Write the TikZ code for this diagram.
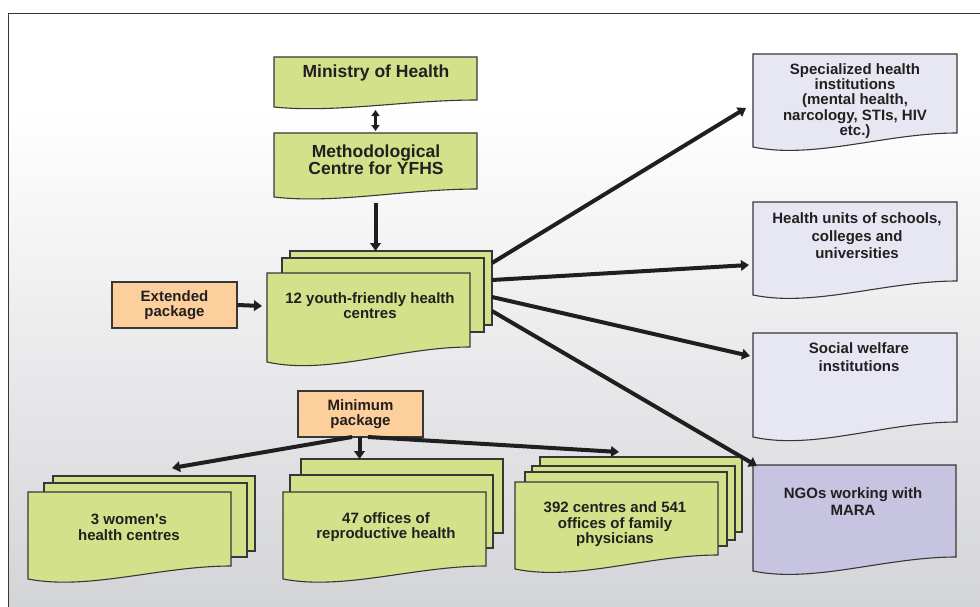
\documentclass[tikz,border=0pt]{standalone}
\usepackage{fontspec}
\setmainfont{Liberation Sans}
\usetikzlibrary{arrows.meta}
\definecolor{grn}{RGB}{211,225,138}
\definecolor{org}{RGB}{253,207,157}
\definecolor{lav}{RGB}{231,231,243}
\definecolor{ngo}{RGB}{199,196,226}
\definecolor{edge}{RGB}{55,55,55}
\definecolor{ink}{RGB}{35,31,32}
\definecolor{bgb}{RGB}{210,211,214}
% fill, x1, ytop, x2, y right bottom, y left bottom
\newcommand\docshape[6]{%
  \filldraw[box,fill=#1] (#2,#3) -- (#4,#3) -- (#4,#5)
    .. controls ({#2+0.65*(#4-#2)},{#5}) and ({#2+0.3*(#4-#2)},{#6+0.9*(#6-#5)}) .. (#2,#6) -- cycle;}
\begin{document}
\begin{tikzpicture}[x=1pt,y=-1pt,
  box/.style={draw=edge,line width=1.1pt},
  txt/.style={text=ink,align=center,font=\fontsize{15}{15.5}\selectfont\bfseries,inner sep=0pt},
  big/.style={text=ink,align=center,font=\fontsize{17.5}{17}\selectfont\bfseries,inner sep=0pt},
  pkg/.style={box,fill=org,text=ink,align=center,font=\fontsize{15}{15.5}\selectfont\bfseries,inner sep=0pt},
  arr/.style={draw=black!88,line width=4pt,-{Triangle[length=8pt,width=10.5pt]}},
]
\useasboundingbox (0,0) rectangle (980,606);
% background
\fill[white] (0,0) rectangle (980,606);
\shade[top color=white,bottom color=bgb] (8,110) rectangle (990,620);
\draw[edge,line width=1pt] (8,620) -- (8,13) -- (990,13);

% top boxes
\docshape{grn}{274}{57}{477}{100}{107}
\node[big] (mh) at (376,73) {Ministry of Health};
\docshape{grn}{274}{133}{477}{189}{197}
\node[big] (mc) at (376,159.5) {Methodological\\Centre for YFHS};

% 12 youth-friendly stack
\filldraw[box,fill=grn] (290,251) rectangle (492,325);
\filldraw[box,fill=grn] (282,258) rectangle (484,332);
\docshape{grn}{267}{273}{470}{347}{362}
\node[txt] (yf) at (370,305.5) {12 youth-friendly health\\centres};

% packages
\node[pkg,minimum width=125pt,minimum height=46pt] (ext) at (174.5,305) {Extended\\package};
\node[pkg,minimum width=125pt,minimum height=46pt] (min) at (360.5,414) {Minimum\\package};

% right boxes
\docshape{lav}{753}{54}{957}{133}{147}
\node[txt,font=\fontsize{15}{15.2}\selectfont\bfseries] (sp) at (855,101) {Specialized health\\institutions\\(mental health,\\narcology, STIs, HIV\\etc.)};
\docshape{lav}{753}{202}{957}{281}{295}
\node[txt,font=\fontsize{15}{17.5}\selectfont\bfseries] (hu) at (857,236) {Health units of schools,\\colleges and\\universities};
\docshape{lav}{753}{333}{957}{422}{437}
\node[txt,font=\fontsize{15}{18}\selectfont\bfseries] (sw) at (859,357) {Social welfare\\institutions};
\docshape{ngo}{753}{465}{956}{557}{571}
\node[txt,font=\fontsize{15}{17}\selectfont\bfseries] (ng) at (853,501.5) {NGOs working with\\MARA};

% bottom stacks
\filldraw[box,fill=grn] (53,476) rectangle (255,551);
\filldraw[box,fill=grn] (44,483) rectangle (247,557);
\docshape{grn}{28}{492}{231}{566}{579}
\node[txt] (wh) at (129,527.5) {3 women\textquotesingle s\\health centres};

\filldraw[box,fill=grn] (301,459) rectangle (503,533);
\filldraw[box,fill=grn] (290,475) rectangle (493,548);
\docshape{grn}{283}{492}{486}{566}{579}
\node[txt] (rh) at (386,527) {47 offices of\\reproductive health};

\filldraw[box,fill=grn] (540,457) rectangle (742,532);
\filldraw[box,fill=grn] (532,466) rectangle (735,540);
\filldraw[box,fill=grn] (525,472) rectangle (727,546);
\docshape{grn}{515}{482}{718}{555}{569}
\node[txt] (fp) at (615,524.5) {392 centres and 541\\offices of family\\physicians};

% connector coordinates
\coordinate (mhB) at (375.5,110);
\coordinate (mcT) at (375.5,131);
\coordinate (mcB) at (375.5,203);
\coordinate (yfT) at (375.5,251);
\coordinate (yfL) at (262,306);
\coordinate (s1) at (492,263);
\coordinate (s2) at (492,280);
\coordinate (s3) at (492,297);
\coordinate (s4) at (492,311);
\coordinate (spL) at (746,108);
\coordinate (huL) at (749,265);
\coordinate (swL) at (750,356);
\coordinate (ngL) at (757,466);
\coordinate (m1) at (352,437);
\coordinate (m2) at (359.5,437);
\coordinate (m3) at (368,437);
\coordinate (whT) at (172,468);
\coordinate (rhT) at (359.5,459);
\coordinate (fpT) at (619,452);

% connectors
\draw[draw=black!88,line width=2.8pt,{Triangle[length=6pt,width=8pt]}-{Triangle[length=6pt,width=8pt]}] (mhB) -- (mcT);
\draw[arr] (mcB) -- (yfT);
\draw[arr] (ext.east) -- (yfL);
\draw[arr] (s1) -- (spL);
\draw[arr] (s2) -- (huL);
\draw[arr] (s3) -- (swL);
\draw[arr] (s4) -- (ngL);
\draw[arr] (m1) -- (whT);
\draw[arr] (m2) -- (rhT);
\draw[arr] (m3) -- (fpT);
\end{tikzpicture}
\end{document}
